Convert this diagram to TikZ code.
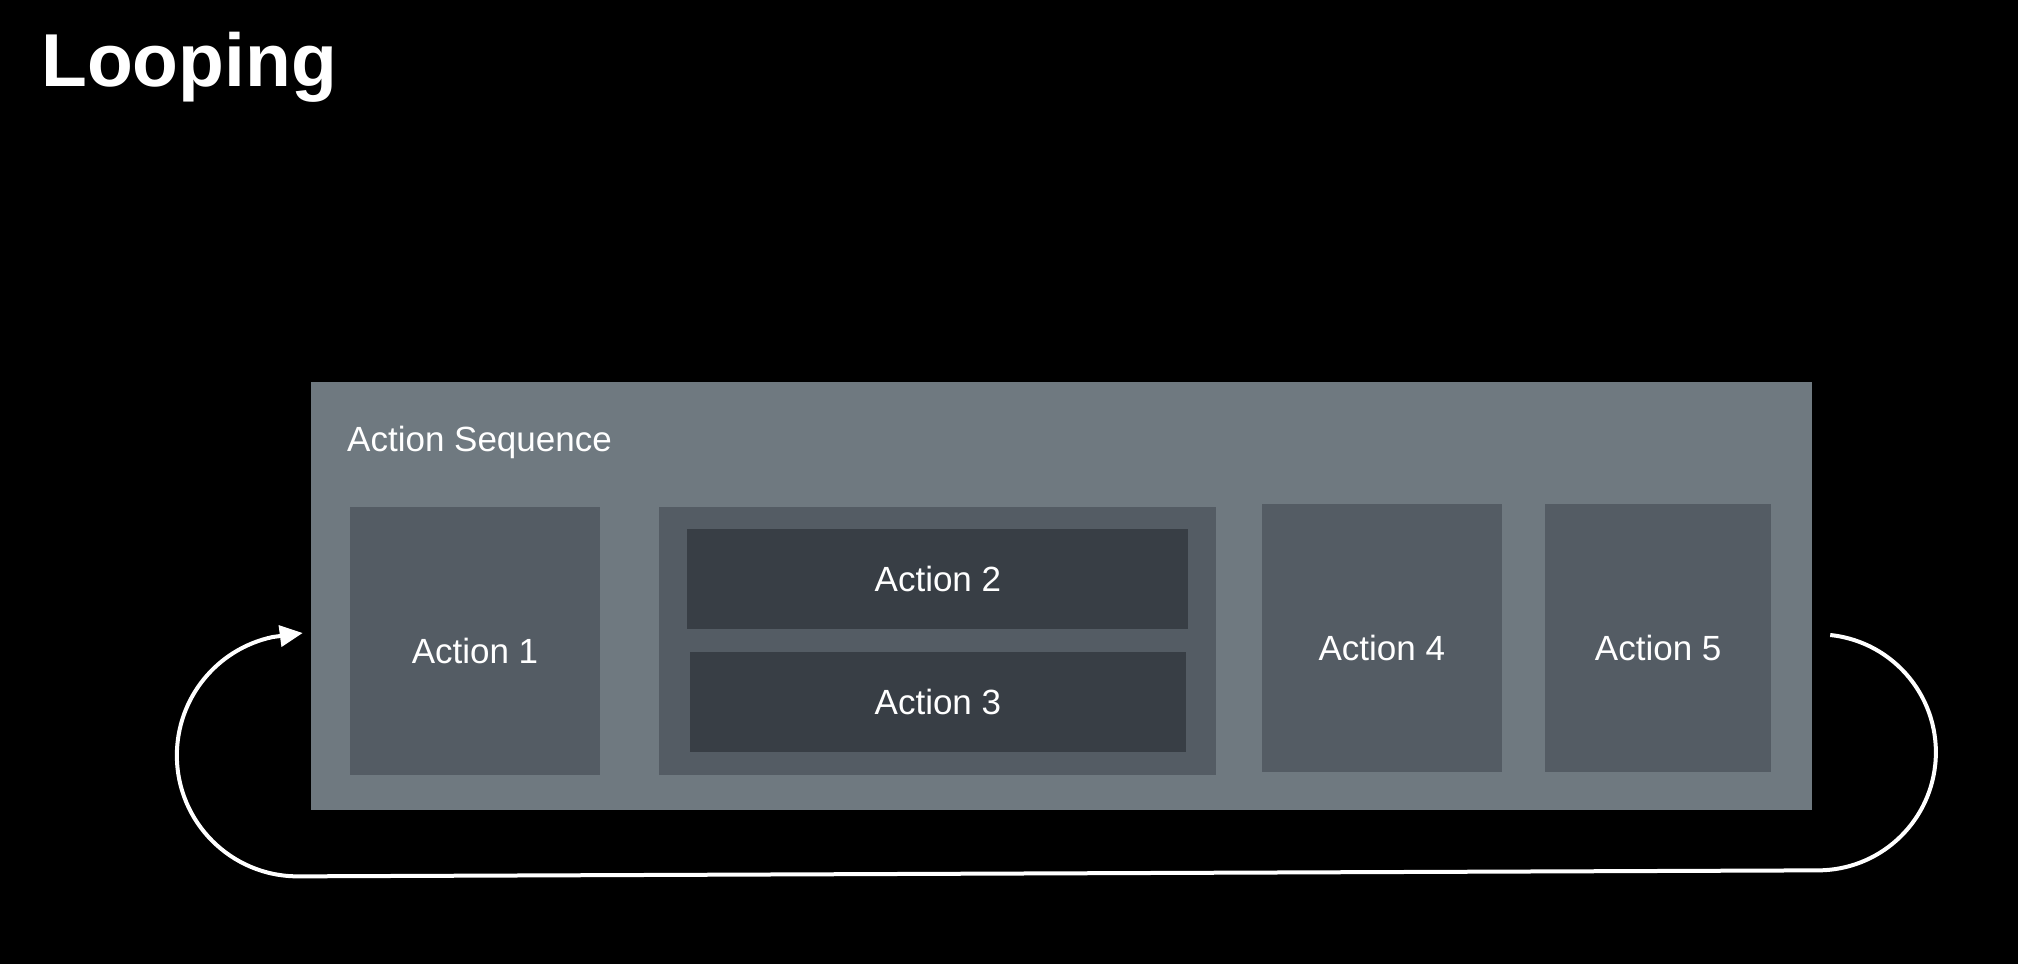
\documentclass[tikz,border=0pt]{standalone}
\usepackage{fontspec}
\setmainfont{Liberation Sans}
\usetikzlibrary{calc,chains,positioning,arrows.meta}
\definecolor{seqgray}{RGB}{111,121,128}
\definecolor{boxgray}{RGB}{84,92,100}
\definecolor{subgray}{RGB}{56,62,69}
\tikzset{actbox/.style={fill=boxgray, minimum height=268pt, inner sep=0pt, text=white,
           text height=44pt, text depth=0pt, font=\fontsize{35}{42}\selectfont},
         subbox/.style={fill=subgray, minimum height=100pt, inner sep=0pt, text=white,
           text height=25pt, text depth=0pt, font=\fontsize{35}{42}\selectfont},
         loopline/.style={draw=white, line width=4pt}}

\begin{document}
\begin{tikzpicture}[x=1pt, y=-1pt, >={Triangle[length=23pt,width=21pt]},
				start chain=going right, node distance=45pt]

	\fill[black] (0,0) rectangle (2018,964);
	\useasboundingbox (0,0) rectangle (2018,964);

	\node[anchor=base west, inner sep=0pt, text=white, font=\bfseries\fontsize{75}{90}\selectfont] (title) at (41,86) {Looping};

	\node[fill=seqgray, minimum width=1501pt, minimum height=428pt, inner sep=0pt] (seq) at (1061.5,596) {};
	\node[anchor=base west, inner sep=0pt, text=white, font=\fontsize{35}{42}\selectfont] (seqlabel) at (347,451) {Action Sequence};

	\node[actbox, minimum width=250pt] (A1) at (475,641) {Action 1};
	\chainin (A1);
	\node[actbox, minimum width=557pt, xshift=14pt, on chain] (G) {};
	\node[actbox, minimum width=240pt, yshift=3pt, on chain] (A4) {Action 4};
	\node[actbox, minimum width=226pt, xshift=-2pt, on chain] (A5) {Action 5};

	\node[subbox, minimum width=501pt] (A2) at ($(G.center)+(0,-62)$) {Action 2};
	\node[subbox, minimum width=496pt] (A3) at ($(G.center)+(0,61)$) {Action 3};

	\draw[loopline, ->] ([xshift=18pt,yshift=-39pt]seq.east) arc[start angle=-84, end angle=90, radius=118]
		-- ++(-1520,6) arc[start angle=90, end angle=258, radius=121]
		-- ([xshift=-8pt,yshift=-37pt]seq.west);
\end{tikzpicture}
\end{document}
